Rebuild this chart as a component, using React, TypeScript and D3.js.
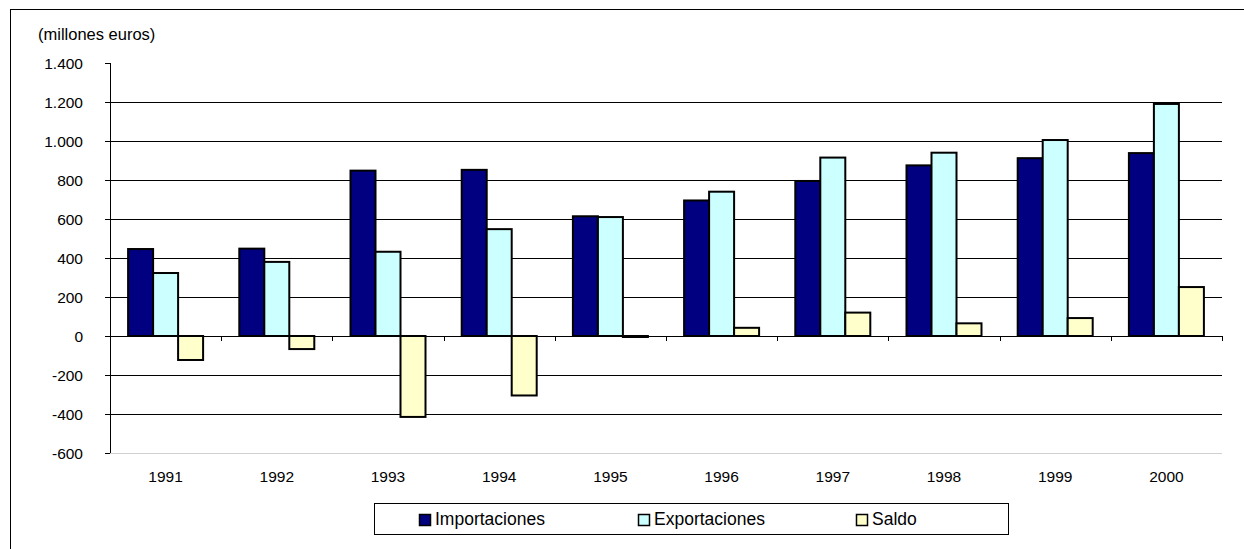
import React from 'react';
import * as d3 from 'd3';

const years = ['1991', '1992', '1993', '1994', '1995', '1996', '1997', '1998', '1999', '2000'];
const importaciones = [446, 448, 848, 852, 614, 695, 795, 875, 912, 938];
const exportaciones = [323, 380, 432, 548, 610, 740, 915, 940, 1005, 1190];
const saldo = [-123, -67, -415, -305, -5, 42, 120, 65, 92, 251];
const yTicks = [-600, -400, -200, 0, 200, 400, 600, 800, 1000, 1200, 1400];

const seriesNames = ['Importaciones', 'Exportaciones', 'Saldo'];
const seriesColors = ['#000080', '#CCFFFF', '#FFFFCC'];

const W = 1244;
const H = 549;
const plot = { left: 110, right: 1222, top: 63, bottom: 453 };
const FONT = 'Liberation Sans, Arial, sans-serif';

const fmt = (v: number) => {
	const s = Math.abs(v).toString().replace(/\B(?=(\d{3})+(?!\d))/g, '.');
	return v < 0 ? '-' + s : s;
};

const App: React.FC = () => {
	const y = d3.scaleLinear().domain([-600, 1400]).range([plot.bottom, plot.top]);
	const x0 = d3.scaleBand<string>().domain(years).range([plot.left, plot.right]).padding(0);
	const groupW = 75;
	const x1 = d3.scaleBand<string>().domain(seriesNames).range([0, groupW]).padding(0);
	const offset = (x0.bandwidth() - groupW) / 2;
	const series = [importaciones, exportaciones, saldo];
	const y0 = y(0);
	const crisp = (v: number) => Math.round(v) + 0.5;

	return (
		<svg width={W} height={H} style={{ display: 'block', position: 'absolute', left: 0, top: 0 }} fontFamily={FONT}>
			<rect x={0} y={0} width={W} height={H} fill="white" />
			<rect x={10.5} y={9.5} width={1250} height={560} fill="none" stroke="#000" strokeWidth={1} />
			<text x={38} y={40} fontSize={16.5}>(millones euros)</text>

			{/* gridlines */}
			{yTicks.map((t) => {
				if (t === 1400 || t === 0) return null;
				return (
					<line key={'g' + t} x1={plot.left} x2={plot.right} y1={crisp(y(t))} y2={crisp(y(t))}
						stroke={t === -600 ? '#d0d0d0' : '#000'} strokeWidth={1} />
				);
			})}

			{/* y axis */}
			<line x1={plot.left + 0.5} x2={plot.left + 0.5} y1={plot.top} y2={plot.bottom} stroke="#000" />
			{yTicks.map((t) => (
				<g key={'t' + t}>
					<line x1={plot.left - 5} x2={plot.left} y1={crisp(y(t))} y2={crisp(y(t))} stroke="#000" />
					<text x={83} y={y(t) + 6} fontSize={15.5} textAnchor="end">{fmt(t)}</text>
				</g>
			))}

			{/* bars */}
			{years.map((yr, i) => (
				<g key={yr}>
					{series.map((s, j) => {
						const v = s[i];
						const bx = (x0(yr) as number) + offset + (x1(seriesNames[j]) as number);
						const top = Math.min(y(v), y0);
						const h = Math.abs(y(v) - y0);
						return (
							<rect key={j} x={bx} y={top} width={x1.bandwidth()} height={Math.max(h, 1)}
								fill={seriesColors[j]} stroke="#000" strokeWidth={2} />
						);
					})}
				</g>
			))}

			{/* category axis at zero */}
			<line x1={plot.left} x2={plot.right} y1={crisp(y0)} y2={crisp(y0)} stroke="#000" />
			{years.map((yr) => (
				<line key={'c' + yr} x1={crisp(x0(yr) as number)} x2={crisp(x0(yr) as number)}
					y1={y0} y2={y0 + 5} stroke="#000" />
			))}
			<line x1={crisp(plot.right)} x2={crisp(plot.right)} y1={y0} y2={y0 + 5} stroke="#000" />
			{years.map((yr) => (
				<text key={'l' + yr} x={(x0(yr) as number) + x0.bandwidth() / 2} y={482} fontSize={15.5} textAnchor="middle">{yr}</text>
			))}

			{/* legend */}
			<rect x={374.5} y={503.5} width={634} height={31} fill="white" stroke="#000" />
			{seriesNames.map((n, j) => {
				const lx = [419, 638, 856][j];
				return (
					<g key={'lg' + n}>
						<rect x={lx + 0.5} y={514.5} width={11} height={11} fill={seriesColors[j]} stroke="#000" strokeWidth={1.5} />
						<text x={lx + 16} y={525} fontSize={17.5}>{n}</text>
					</g>
				);
			})}
		</svg>
	);
};

export default App;
